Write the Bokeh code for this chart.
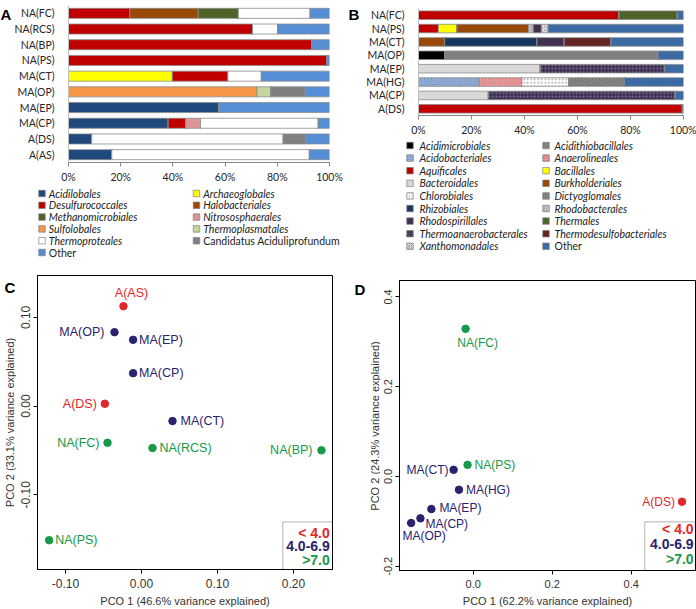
import math
from bokeh.plotting import figure
from bokeh.layouts import column, row
from bokeh.models import (ColumnDataSource, FactorRange, Range1d, FixedTicker,
                          NumeralTickFormatter, PrintfTickFormatter, Label, BoxAnnotation)
from bokeh.core.properties import value
from bokeh.embed import file_html
from bokeh.resources import INLINE

# ---------------- Panel A data (archaeal orders, % of reads) ----------------
a_samples = ["NA(FC)", "NA(RCS)", "NA(BP)", "NA(PS)", "MA(CT)", "MA(OP)", "MA(EP)", "MA(CP)", "A(DS)", "A(AS)"]
a_orders = ["Acidilobales", "Archaeoglobales", "Desulfurococcales", "Halobacteriales",
            "Methanomicrobiales", "Nitrososphaerales", "Sulfolobales", "Thermoplasmatales",
            "Thermoproteales", "Candidatus Aciduliprofundum", "Other"]
a_acidilobales       = [0, 0, 0, 0, 0, 0, 57.7, 38.2, 8.9, 16.6]
a_archaeoglobales    = [0, 0, 0, 0, 39.8, 0, 0, 0, 0, 0]
a_desulfurococcales  = [23.5, 70.5, 93.2, 99.1, 21.3, 0, 0, 6.7, 0, 0]
a_halobacteriales    = [26.2, 0, 0, 0, 0, 0, 0, 0, 0, 0]
a_methanomicrobiales = [15.4, 0, 0, 0, 0, 0, 0, 0, 0, 0]
a_nitrososphaerales  = [0, 0, 0, 0, 0, 0, 0, 5.7, 0, 0]
a_sulfolobales       = [0, 0, 0, 0, 0, 72.2, 0, 0, 0, 0]
a_thermoplasmatales  = [0, 0, 0, 0, 0, 5.3, 0, 0, 0, 0]
a_thermoproteales    = [27.5, 9.6, 0, 0, 12.8, 0, 0, 45.1, 73.3, 75.7]
a_candidatus         = [0, 0, 0, 0, 0, 13.2, 0, 0, 8.7, 0]
a_other              = [7.4, 19.9, 6.8, 0.9, 26.1, 9.3, 42.3, 4.3, 9.1, 7.7]
a_values = [a_acidilobales, a_archaeoglobales, a_desulfurococcales, a_halobacteriales,
            a_methanomicrobiales, a_nitrososphaerales, a_sulfolobales, a_thermoplasmatales,
            a_thermoproteales, a_candidatus, a_other]

# ---------------- Panel B data (bacterial orders, % of reads) ----------------
b_samples = ["NA(FC)", "NA(PS)", "MA(CT)", "MA(OP)", "MA(EP)", "MA(HG)", "MA(CP)", "A(DS)"]
b_orders = ["Acidimicrobiales", "Acidithiobacillales", "Acidobacteriales", "Anaerolineales",
            "Aquificales", "Bacillales", "Bacteroidales", "Burkholderiales", "Chlorobiales",
            "Dictyoglomales", "Rhizobiales", "Rhodobacterales", "Rhodospirillales", "Thermales",
            "Thermoanaerobacterales", "Thermodesulfobacteriales", "Xanthomonadales", "Other"]
b_acidimicrobiales         = [0, 0, 0, 9.9, 0, 0, 0, 0]
b_acidithiobacillales      = [0, 0, 0, 80.5, 0, 0, 0, 0]
b_acidobacteriales         = [0, 0, 0, 0, 0, 22.9, 0, 0]
b_anaerolineales           = [0, 0, 0, 0, 0, 16.1, 0, 0]
b_aquificales              = [75.7, 7.5, 0, 0, 0, 0, 0, 99.6]
b_bacillales               = [0, 7.0, 0, 0, 0, 0, 0, 0]
b_bacteroidales            = [0, 0, 0, 0, 46.0, 0, 26.4, 0]
b_burkholderiales          = [0, 27.0, 9.9, 0, 0, 0, 0, 0]
b_chlorobiales             = [0, 0, 0, 0, 0, 17.6, 0, 0]
b_dictyoglomales           = [0, 0, 0, 0, 0, 21.1, 0, 0]
b_rhizobiales              = [0, 0, 34.8, 0, 0, 0, 0, 0]
b_rhodobacterales          = [0, 1.8, 0, 0, 0, 0, 0, 0]
b_rhodospirillales         = [0, 3.1, 10.3, 0, 0, 0, 0, 0]
b_thermales                = [22.0, 0, 0, 0, 0, 0, 0, 0]
b_thermoanaerobacterales   = [0, 0, 0, 0, 46.8, 0, 70.5, 0]
b_thermodesulfobacteriales = [0, 0, 17.6, 0, 0, 0, 0, 0]
b_xanthomonadales          = [0, 2.5, 0, 0, 0, 0, 0, 0]
b_other                    = [2.3, 51.1, 27.4, 9.6, 7.2, 22.3, 3.1, 0.4]
b_values = [b_acidimicrobiales, b_acidithiobacillales, b_acidobacteriales, b_anaerolineales,
            b_aquificales, b_bacillales, b_bacteroidales, b_burkholderiales, b_chlorobiales,
            b_dictyoglomales, b_rhizobiales, b_rhodobacterales, b_rhodospirillales, b_thermales,
            b_thermoanaerobacterales, b_thermodesulfobacteriales, b_xanthomonadales, b_other]

pct_ticks = [0, 20, 40, 60, 80, 100]

# ---------------- Panel C data (PCO, archaea) ----------------
c_samples = ["A(AS)", "MA(OP)", "MA(EP)", "MA(CP)", "A(DS)", "MA(CT)", "NA(FC)", "NA(RCS)", "NA(BP)", "NA(PS)"]
c_pco1 = [-0.0237, -0.0355, -0.0110, -0.0110, -0.0482, 0.0408, -0.0447, 0.0145, 0.2368, -0.1215]
c_pco2 = [0.1126, 0.0833, 0.0747, 0.0371, 0.0026, -0.0169, -0.0413, -0.0473, -0.0499, -0.1512]
c_group = ["< 4.0", "4.0-6.9", "4.0-6.9", "4.0-6.9", "< 4.0", "4.0-6.9", ">7.0", ">7.0", ">7.0", ">7.0"]
c_xticks = [-0.1, 0.0, 0.1, 0.2]
c_yticks = [-0.1, 0.0, 0.1]

# ---------------- Panel D data (PCO, bacteria) ----------------
d_samples = ["NA(FC)", "NA(PS)", "MA(CT)", "MA(HG)", "MA(EP)", "MA(CP)", "MA(OP)", "A(DS)"]
d_pco1 = [-0.0193, -0.0143, -0.0496, -0.0361, -0.1059, -0.1336, -0.1571, 0.5286]
d_pco2 = [0.3289, 0.0259, 0.0148, -0.0296, -0.0726, -0.0933, -0.1037, -0.0563]
d_group = [">7.0", ">7.0", "4.0-6.9", "4.0-6.9", "4.0-6.9", "4.0-6.9", "4.0-6.9", "< 4.0"]
d_xticks = [0.0, 0.2, 0.4]
d_yticks = [-0.2, 0.0, 0.2, 0.4]

ph_groups = ["< 4.0", "4.0-6.9", ">7.0"]

# ---------------- styles ----------------
BAR_FONT = "Lato"
R_FONT = "Liberation Sans"
group_colors = {"< 4.0": "#e3262a", "4.0-6.9": "#29236d", ">7.0": "#16994a"}

a_colors = ["#1f497d", "#ffff00", "#c00000", "#984807", "#4f6228", "#d99694",
            "#f79646", "#c3d69b", "#ffffff", "#7f7f7f", "#558ed5"]
a_styles = ["italic"] * 9 + ["normal", "normal"]

b_colors = ["#000000", "#808080", "#7596c4", "#eeaaaa", "#c00000", "#ffff00", "#d9d9d9",
            "#984807", "#ffffff", "#6e6e6e", "#17375e", "#c4c4c4", "#403151", "#4f6228",
            "#403151", "#632523", "#ffffff", "#3b6aa4"]
b_hatch = ["blank", "blank", "diagonal_cross", "diagonal_cross", "blank", "blank", "blank",
           "blank", "dot", "diagonal_cross", "blank", "dot", "blank", "blank",
           "dot", "blank", "diagonal_cross", "blank"]
b_hatch_color = ["#000000", "#000000", "#b4c8e4", "#cc6666", "#000000", "#000000", "#000000",
                 "#000000", "#9a9a9a", "#a0a0a0", "#000000", "#8a8a8a", "#000000", "#000000",
                 "#8a7aa6", "#000000", "#6e6e6e", "#000000"]
b_styles = ["italic"] * 17 + ["normal"]

COMMON = dict(toolbar_location=None, output_backend="svg", frame_align=False)


def bar_panel(samples, values, colors, hatches, hcolors, width, height, left, right, top, bottom):
    data = {"sample": samples}
    keys = []
    for i, vals in enumerate(values):
        k = "s%d" % i
        data[k] = vals
        keys.append(k)
    src = ColumnDataSource(data)
    p = figure(width=width, height=height, y_range=FactorRange(factors=samples[::-1]),
               x_range=Range1d(0, 100), min_border_left=left, min_border_right=right,
               min_border_top=top, min_border_bottom=bottom, outline_line_color=None, **COMMON)
    p.hbar_stack(keys, y="sample", height=0.64, source=src, fill_color=colors,
                 line_color="#8c8c8c", line_width=0.8,
                 hatch_pattern=hatches, hatch_color=hcolors, hatch_scale=3.5, hatch_weight=0.8)
    p.xgrid.visible = False
    p.ygrid.visible = False
    p.xaxis.ticker = FixedTicker(ticks=pct_ticks)
    p.xaxis.formatter = PrintfTickFormatter(format="%d%%")
    p.xaxis.axis_line_color = "#868686"
    p.xaxis.major_tick_line_color = "#868686"
    p.xaxis.major_tick_out = 4
    p.xaxis.major_tick_in = 0
    p.xaxis.minor_tick_line_color = None
    p.xaxis.major_label_standoff = 4
    p.yaxis.axis_line_color = "#bfbfbf"
    p.yaxis.major_tick_line_color = None
    p.yaxis.minor_tick_line_color = None
    p.yaxis.major_label_standoff = 8
    for ax in (p.xaxis, p.yaxis):
        ax.major_label_text_font = BAR_FONT
        ax.major_label_text_font_size = "10.5px"
        ax.major_label_text_color = "#262626"
    return p


def blank_panel(width, height):
    p = figure(width=width, height=height, x_range=Range1d(0, width), y_range=Range1d(height, 0),
               x_axis_type=None, y_axis_type=None, min_border_left=0, min_border_right=0,
               min_border_top=0, min_border_bottom=0, outline_line_color=None, **COMMON)
    p.xgrid.visible = False
    p.ygrid.visible = False
    return p


def legend_panel(names, colors, hatches, hcolors, styles, width, height,
                 sq_x, tx_x, y0, dy, font_size):
    n = len(names)
    xs = [sq_x[i % 2] for i in range(n)]
    xt = [tx_x[i % 2] for i in range(n)]
    ys = [y0 + (i // 2) * dy for i in range(n)]
    p = blank_panel(width, height)
    p.rect(x=xs, y=ys, width=6.5, height=6.5, fill_color=colors, line_color="#7f7f7f",
           line_width=0.7, hatch_pattern=hatches, hatch_color=hcolors, hatch_scale=2.5,
           hatch_weight=0.7)
    p.text(x=xt, y=ys, text=names, text_font_style=styles, text_baseline="middle",
           text_align="left", text_font=value(BAR_FONT), text_font_size=font_size,
           text_color="#222222")
    return p


def side_panel(letter, width, height, lx, lbase, axis_text=None, ax_x=0, ax_y=0):
    p = blank_panel(width, height)
    p.text(x=[lx], y=[lbase], text=[letter], text_baseline="alphabetic", text_align="left",
           text_font=value(R_FONT), text_font_size="15px", text_font_style="bold",
           text_color="black")
    if axis_text:
        p.text(x=[ax_x], y=[ax_y], text=[axis_text], angle=math.pi / 2, text_align="center",
               text_baseline="middle", text_font=value(R_FONT), text_font_size="11px",
               text_color="#333333")
    return p


def pco_panel(samples, pc1, pc2, groups, place, xr, yr, xticks, yticks, fmt,
              xlabel, width, height, left, right, top, bottom,
              tick_size, pt_font, leg_box, leg_rows, leg_font):
    p = figure(width=width, height=height, x_range=Range1d(*xr), y_range=Range1d(*yr),
               min_border_left=left, min_border_right=right, min_border_top=top,
               min_border_bottom=bottom, outline_line_color="black", outline_line_width=1,
               **COMMON)
    cols = [group_colors[g] for g in groups]
    src = ColumnDataSource(dict(x=pc1, y=pc2, name=samples, color=cols,
                                align=[pl[0] for pl in place], base=[pl[1] for pl in place],
                                xo=[pl[2] for pl in place], yo=[pl[3] for pl in place]))
    p.scatter(x="x", y="y", size=7.5, fill_color="color", line_color="color", source=src)
    p.text(x="x", y="y", text="name", text_color="color", text_align="align",
           text_baseline="base", x_offset="xo", y_offset="yo", text_font=value(R_FONT),
           text_font_size=pt_font, source=src)
    p.xgrid.visible = False
    p.ygrid.visible = False
    p.xaxis.ticker = FixedTicker(ticks=xticks)
    p.yaxis.ticker = FixedTicker(ticks=yticks)
    p.xaxis.formatter = NumeralTickFormatter(format=fmt)
    p.yaxis.formatter = NumeralTickFormatter(format=fmt)
    p.yaxis.major_label_orientation = "vertical"
    p.xaxis.axis_label = xlabel
    for ax in (p.xaxis, p.yaxis):
        ax.axis_line_color = "black"
        ax.major_tick_line_color = "black"
        ax.major_tick_out = 4
        ax.major_tick_in = 0
        ax.minor_tick_line_color = None
        ax.major_label_standoff = 3
        ax.axis_label_standoff = 4
        ax.major_label_text_font = R_FONT
        ax.major_label_text_font_size = tick_size
        ax.major_label_text_color = "#333333"
        ax.axis_label_text_font = R_FONT
        ax.axis_label_text_font_size = "11px"
        ax.axis_label_text_font_style = "normal"
        ax.axis_label_text_color = "#333333"
    p.xaxis.major_label_standoff = 5
    # pH legend box (bottom-right corner of the frame)
    bl, bt = leg_box
    p.add_layout(BoxAnnotation(left=bl, right=xr[1], bottom=yr[0], top=bt,
                               fill_alpha=0, line_color="black", line_width=1))
    tx, ty = leg_rows
    for g, yy in zip(ph_groups, ty):
        p.add_layout(Label(x=tx, y=yy, text=g, text_align="right", text_baseline="middle",
                           text_font=R_FONT, text_font_size=leg_font, text_font_style="bold",
                           text_color=group_colors[g]))
    return p


# ---------------- build panels ----------------
a_letter = side_panel("A", 11, 186, 0, 14)
a_bars = bar_panel(a_samples, a_values, a_colors, ["blank"] * 11, ["#000000"] * 11,
                   334, 186, 48, 16, 5, 24)
a_leg = legend_panel(a_orders, a_colors, ["blank"] * 11, ["#000000"] * 11, a_styles,
                     345, 72, [41.5, 196], [48.3, 202.7], 7, 11.8, "10.5px")

b_letter = side_panel("B", 16, 139, 3, 14)
b_bars = bar_panel(b_samples, b_values, b_colors, b_hatch, b_hatch_color,
                   335, 139, 57, 13, 8, 24)
b_leg = legend_panel(b_orders, b_colors, b_hatch, b_hatch_color, b_styles,
                     351, 119, [64.5, 200.5], [74, 209], 6, 12.6, "10.5px")

# label placement (align, baseline, x offset px, y offset px)
c_place = [("center", "bottom", 8, -6), ("right", "middle", -10, 0), ("left", "middle", 6, 0),
           ("left", "middle", 6, 0), ("right", "middle", -8, 0), ("left", "middle", 8, 0),
           ("right", "middle", -8, 0), ("left", "middle", 7, 0), ("right", "middle", -9, 0),
           ("left", "middle", 6, 0)]
c_side = side_panel("C", 16, 351, 4, 29, "PCO 2 (33.1% variance explained)", 9, 164)
c_fig = pco_panel(c_samples, c_pco1, c_pco2, c_group, c_place,
                  (-0.1368, 0.2513), (-0.1842, 0.1472), c_xticks, c_yticks, "0.00",
                  "PCO 1 (46.6% variance explained)",
                  329, 351, 21, 13, 17, 40, "12px", "12.5px",
                  (0.1859, -0.1306), (0.2477, [-0.1430, -0.1572, -0.1738]), "14px")

d_place = [("center", "top", 12, 7), ("left", "middle", 7, 0), ("right", "middle", -5, 0),
           ("left", "middle", 7, 0), ("left", "middle", 8, -1), ("left", "middle", 5, 6),
           ("center", "middle", 13, 13), ("right", "middle", -7, 0)]
d_side = side_panel("D", 35, 351, 9, 31, "PCO 2 (24.3% variance explained)", 29, 167.5)
d_fig = pco_panel(d_samples, d_pco1, d_pco2, d_group, d_place,
                  (-0.1866, 0.5628), (-0.2095, 0.4366), d_xticks, d_yticks, "0.0",
                  "PCO 1 (62.2% variance explained)",
                  316, 351, 19, 1, 22, 38, "11px", "12px",
                  (0.4344, -0.1012), (0.5580, [-0.1168, -0.1494, -0.1834]), "14px")

layout = column(
    row(column(row(a_letter, a_bars), a_leg), column(row(b_letter, b_bars), b_leg)),
    row(c_side, c_fig, d_side, d_fig),
)

open("out.html", "w").write(file_html(layout, INLINE))
